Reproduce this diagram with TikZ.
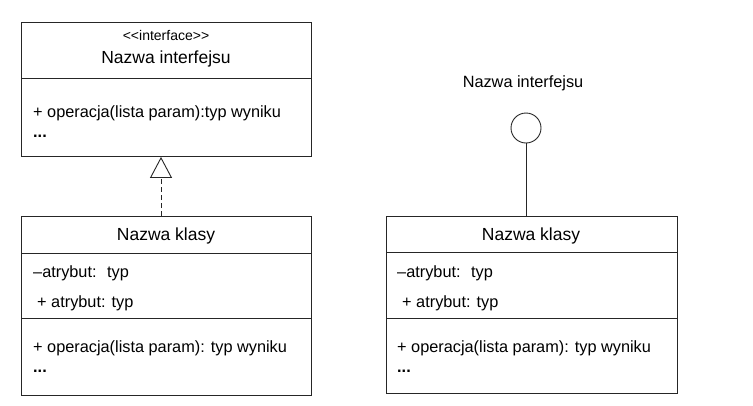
\documentclass[tikz,border=0pt]{standalone}
\usepackage{fontspec}
\setmainfont{Liberation Sans}
\usetikzlibrary{arrows.meta}
\begin{document}
\begin{tikzpicture}[x=1pt,y=-1pt,
    umlbox/.style={draw=black!85, line width=0.9pt, inner sep=0pt, anchor=north west},
    title/.style={anchor=base, font=\fontsize{17.5}{19}\selectfont},
    member/.style={anchor=base west, inner sep=0pt, font=\fontsize{16.3}{18}\selectfont},
    divider/.style={draw=black!85, line width=0.9pt}]
  \useasboundingbox (0,0) rectangle (753,405);
  % interface
  \node[umlbox, minimum width=290pt, minimum height=134pt] (iface) at (21,22) {};
  \draw[divider] (21,78) -- (311,78);
  \node[anchor=base, font=\fontsize{14}{15}\selectfont] (ifster) at (166,40) {<\kern0pt<interface>\kern0pt>};
  \node[title] (ifname) at (166,63) {Nazwa interfejsu};
  \node[member] (ifop) at (33,117) {+ operacja(lista param):typ wyniku};
  \node[member] (ifdots) at (33,137) {\textbf{...}};
  % class (left)
  \node[umlbox, minimum width=290pt, minimum height=179pt] (cls) at (21,216) {};
  \draw[divider] (21,253) -- (311,253);
  \draw[divider] (21,318) -- (311,318);
  \node[title] (clsname) at (166,240) {Nazwa klasy};
  \node[member] (clsa) at (33,277) {--atrybut:~ typ};
  \node[member] (clsb) at (37,307) {+ atrybut: typ};
  \node[member] (clsop) at (33,352) {+ operacja(lista param): typ wyniku};
  \node[member] (clsdots) at (33,372) {\textbf{...}};
  \draw[black!85, line width=0.9pt, dash pattern=on 5pt off 3pt,
        -{Triangle[open, length=21pt, width=22pt, line width=0.9pt]}]
    (cls.north -| 161,0) -- (iface.south -| 161,0);
  % class (right) with lollipop
  \node[umlbox, minimum width=291pt, minimum height=177pt] (cls2) at (386,216) {};
  \draw[divider] (386,252) -- (677,252);
  \draw[divider] (386,318) -- (677,318);
  \node[title] (cls2name) at (531,240) {Nazwa klasy};
  \node[member] (cls2a) at (397,277) {--atrybut:~ typ};
  \node[member] (cls2b) at (402,307) {+ atrybut: typ};
  \node[member] (cls2op) at (397,352) {+ operacja(lista param): typ wyniku};
  \node[member] (cls2dots) at (397,372) {\textbf{...}};
  \node[draw=black!85, line width=0.9pt, circle, minimum size=30pt, inner sep=0pt] (lolli) at (526,128) {};
  \node[anchor=base, font=\fontsize{16.3}{18}\selectfont] (lolliname) at (523,87) {Nazwa interfejsu};
  \draw[black!85, line width=0.9pt] (lolli.south) -- (lolli.south |- cls2.north);
\end{tikzpicture}
\end{document}
